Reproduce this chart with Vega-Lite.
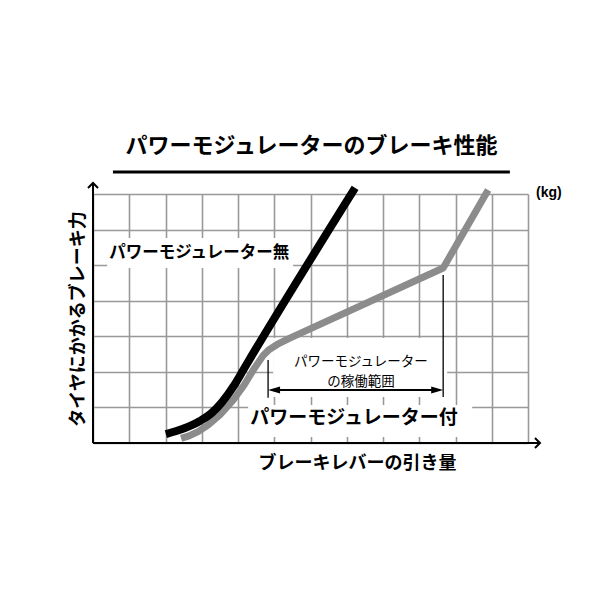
{
  "$schema": "https://vega.github.io/schema/vega-lite/v6.json",
  "width": 435,
  "height": 249,
  "autosize": {"type": "none"},
  "padding": {"left": 93, "top": 194, "right": 72, "bottom": 157},
  "background": "white",
  "config": {"view": {"stroke": null}},
  "encoding": {
    "x": {
      "field": "x", "type": "quantitative",
      "scale": {"domain": [0, 12], "nice": false, "zero": false},
      "axis": {
        "values": [0,1,2,3,4,5,6,7,8,9,10,11,12],
        "grid": true, "gridColor": "#999999", "gridWidth": 1.6,
        "domain": false, "ticks": false, "labels": false,
        "title": "ブレーキレバーの引き量",
        "titleFont": "Noto Sans CJK JP", "titleFontSize": 18, "titleFontWeight": "bold", "titleColor": "#000000",
        "titleX": 264, "titleY": 20, "titleAlign": "center", "titleBaseline": "middle", "titleAnchor": null
      }
    },
    "y": {
      "field": "y", "type": "quantitative",
      "scale": {"domain": [0, 7], "nice": false, "zero": false},
      "axis": {
        "values": [0,1,2,3,4,5,6,7],
        "grid": true, "gridColor": "#999999", "gridWidth": 1.6,
        "domain": false, "ticks": false, "labels": false,
        "title": "タイヤにかかるブレーキ力",
        "titleFont": "Noto Sans CJK JP", "titleFontSize": 18, "titleFontWeight": "bold", "titleColor": "#000000",
        "titleX": -15, "titleY": 124.5, "titleAngle": -90, "titleAlign": "center", "titleBaseline": "middle"
      }
    }
  },
  "layer": [
    {
      "data": {"values": [
        {"x": 0.39, "x2": 5.52, "y": 4.92, "y2": 5.76},
        {"x": 4.97, "x2": 9.77, "y": 1.29, "y2": 2.95},
        {"x": 4.28, "x2": 10.46, "y": 0.17, "y2": 1.07}
      ]},
      "mark": {"type": "rect", "fill": "white", "stroke": null},
      "encoding": {"x2": {"field": "x2"}, "y2": {"field": "y2"}}
    },
    {
      "data": {"values": [
        {"x": 0, "x2": 12.33, "y": 0, "y2": 0},
        {"x": 0, "x2": 0, "y": 0, "y2": 7.31}
      ]},
      "mark": {"type": "rule", "color": "#000000", "strokeWidth": 2},
      "encoding": {"x2": {"field": "x2"}, "y2": {"field": "y2"}}
    },
    {
      "data": {"values": [{"x": 12.33, "y": 0}]},
      "mark": {"type": "point", "shape": "M-1,-1L0,0L-1,1", "filled": false, "stroke": "#000000", "strokeWidth": 2, "size": 100, "opacity": 1},
      "encoding": {}
    },
    {
      "data": {"values": [{"x": 0, "y": 7.31}]},
      "mark": {"type": "point", "shape": "M-1,1L0,0L1,1", "filled": false, "stroke": "#000000", "strokeWidth": 2, "size": 100, "opacity": 1},
      "encoding": {}
    },
    {
      "data": {"values": [
        {"series": "パワーモジュレーター付", "x": 2.43, "y": 0.13},
        {"series": "パワーモジュレーター付", "x": 2.65, "y": 0.20},
        {"series": "パワーモジュレーター付", "x": 2.90, "y": 0.32},
        {"series": "パワーモジュレーター付", "x": 3.18, "y": 0.51},
        {"series": "パワーモジュレーター付", "x": 3.50, "y": 0.79},
        {"series": "パワーモジュレーター付", "x": 3.87, "y": 1.21},
        {"series": "パワーモジュレーター付", "x": 4.17, "y": 1.63},
        {"series": "パワーモジュレーター付", "x": 4.42, "y": 2.05},
        {"series": "パワーモジュレーター付", "x": 4.70, "y": 2.47},
        {"series": "パワーモジュレーター付", "x": 4.84, "y": 2.61},
        {"series": "パワーモジュレーター付", "x": 5.08, "y": 2.77},
        {"series": "パワーモジュレーター付", "x": 5.43, "y": 2.95},
        {"series": "パワーモジュレーター付", "x": 9.66, "y": 4.92},
        {"series": "パワーモジュレーター付", "x": 10.90, "y": 7.11}
      ]},
      "mark": {"type": "line", "color": "#8c8c8c", "strokeWidth": 7, "strokeCap": "butt", "strokeJoin": "round"},
      "encoding": {"order": {"field": "x", "type": "quantitative"}}
    },
    {
      "data": {"values": [
        {"series": "パワーモジュレーター無", "x": 2.01, "y": 0.25},
        {"series": "パワーモジュレーター無", "x": 2.34, "y": 0.35},
        {"series": "パワーモジュレーター無", "x": 2.68, "y": 0.48},
        {"series": "パワーモジュレーター無", "x": 2.95, "y": 0.62},
        {"series": "パワーモジュレーター無", "x": 3.27, "y": 0.84},
        {"series": "パワーモジュレーター無", "x": 3.56, "y": 1.15},
        {"series": "パワーモジュレーター無", "x": 3.90, "y": 1.63},
        {"series": "パワーモジュレーター無", "x": 4.19, "y": 2.13},
        {"series": "パワーモジュレーター無", "x": 7.23, "y": 7.17}
      ]},
      "mark": {"type": "line", "color": "#000000", "strokeWidth": 8, "strokeCap": "butt", "strokeJoin": "round", "interpolate": "monotone"},
      "encoding": {"order": {"field": "x", "type": "quantitative"}}
    },
    {
      "data": {"values": [
        {"x": 4.83, "x2": 4.83, "y": 1.27, "y2": 2.33},
        {"x": 9.66, "x2": 9.66, "y": 1.29, "y2": 4.72}
      ]},
      "mark": {"type": "rule", "color": "#000000", "strokeWidth": 1.3},
      "encoding": {"x2": {"field": "x2"}, "y2": {"field": "y2"}}
    },
    {
      "data": {"values": [{"x": 5.0, "x2": 9.5, "y": 1.49, "y2": 1.49}]},
      "mark": {"type": "rule", "color": "#000000", "strokeWidth": 2.2},
      "encoding": {"x2": {"field": "x2"}, "y2": {"field": "y2"}}
    },
    {
      "data": {"values": [{"x": 9.66, "y": 1.49}]},
      "mark": {"type": "point", "shape": "M0,0L-2,-0.6L-2,0.6Z", "filled": true, "fill": "#000000", "size": 144, "opacity": 1},
      "encoding": {}
    },
    {
      "data": {"values": [{"x": 4.83, "y": 1.49}]},
      "mark": {"type": "point", "shape": "M0,0L2,-0.6L2,0.6Z", "filled": true, "fill": "#000000", "size": 144, "opacity": 1},
      "encoding": {}
    },
    {
      "data": {"values": [{"x": 0.55, "x2": 11.5, "y": 7.62, "y2": 7.62}]},
      "mark": {"type": "rule", "color": "#000000", "strokeWidth": 3},
      "encoding": {"x2": {"field": "x2"}, "y2": {"field": "y2"}}
    },
    {
      "data": {"values": [{"x": 6.03, "y": 8.35, "label": "パワーモジュレーターのブレーキ性能"}]},
      "mark": {"type": "text", "font": "Noto Sans CJK JP", "fontSize": 22, "fontWeight": "bold", "color": "#000000", "align": "center", "baseline": "middle"},
      "encoding": {"text": {"field": "label"}}
    },
    {
      "data": {"values": [{"x": 2.93, "y": 5.34, "label": "パワーモジュレーター無"}]},
      "mark": {"type": "text", "font": "Noto Sans CJK JP", "fontSize": 16.5, "fontWeight": "bold", "color": "#000000", "align": "center", "baseline": "middle"},
      "encoding": {"text": {"field": "label"}}
    },
    {
      "data": {"values": [{"x": 7.20, "y": 0.70, "label": "パワーモジュレーター付"}]},
      "mark": {"type": "text", "font": "Noto Sans CJK JP", "fontSize": 19, "fontWeight": "bold", "color": "#000000", "align": "center", "baseline": "middle"},
      "encoding": {"text": {"field": "label"}}
    },
    {
      "data": {"values": [{"x": 7.39, "y": 2.28, "label": "パワーモジュレーター\nの稼働範囲"}]},
      "mark": {"type": "text", "font": "Noto Sans CJK JP", "fontSize": 13.5, "fontWeight": "normal", "color": "#000000", "align": "center", "baseline": "middle", "lineBreak": "\n", "lineHeight": 20},
      "encoding": {"text": {"field": "label"}}
    },
    {
      "data": {"values": [{"x": 12.22, "y": 7.03, "label": "(kg)"}]},
      "mark": {"type": "text", "font": "Liberation Sans", "fontSize": 14, "fontWeight": "bold", "color": "#000000", "align": "left", "baseline": "middle"},
      "encoding": {"text": {"field": "label"}}
    }
  ]
}
